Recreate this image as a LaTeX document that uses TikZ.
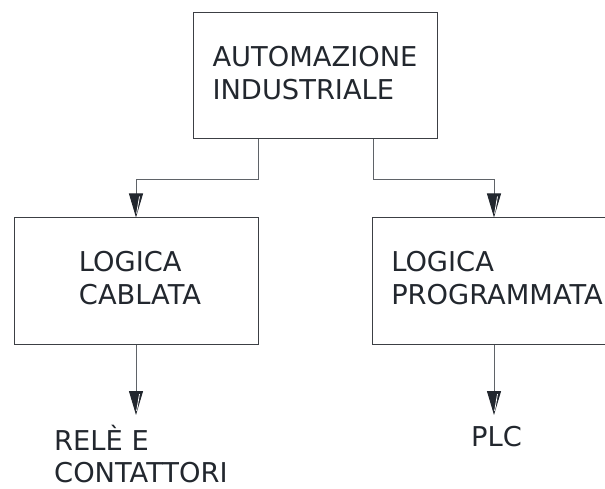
\documentclass[tikz,border=0pt]{standalone}
\usepackage{fontspec}
\setmainfont{DejaVu Sans}
\usetikzlibrary{arrows.meta,calc}
\definecolor{txt}{HTML}{22272E}
\definecolor{edgec}{HTML}{3C3F44}
\definecolor{connc}{HTML}{5F6368}
\definecolor{tipc}{HTML}{22272E}
\begin{document}
\begin{tikzpicture}[x=1pt,y=-1pt,
  txtfont/.style={font=\fontsize{27.3}{33}\selectfont},
  box/.style={draw=edgec,line width=1pt,inner sep=0pt,minimum width=244pt,
    minimum height=126pt,text=txt,txtfont},
  lbl/.style={inner sep=0pt,text=txt,txtfont,anchor=base west},
  conn/.style={draw=connc,line width=1pt,
    -{Triangle[length=24pt,width=14pt,color=tipc]}},
  slash/.style={draw=white,line width=0.8pt}]
\clip (0,0) rectangle (605,489);
\node[box] (top) at (315,76)
  {\begin{tabular}{@{}l@{}}AUTOMAZIONE\\INDUSTRIALE\end{tabular}};
\node[box] (lbox) at (136,281)
  {\hspace*{8pt}\begin{tabular}{@{}l@{}}LOGICA\\CABLATA\end{tabular}};
\node[box] (rbox) at (494,281)
  {\hspace*{6pt}\begin{tabular}{@{}l@{}}LOGICA\\PROGRAMMATA\end{tabular}};
\node[lbl] (rele) at (54,482)
  {\vbox{\baselineskip=32pt\hbox{RELÈ E}\hbox{CONTATTORI}}};
\node[lbl] (plc) at (471,446) {PLC};
\coordinate (releTip) at (136,415);
\coordinate (plcTip) at (494,415);
\draw[conn] ([xshift=-57pt]top.south) -- ++(0,40) -| (lbox.north);
\draw[conn] ([xshift=58pt]top.south) -- ++(0,40) -| (rbox.north);
\draw[conn] (lbox.south) -- (releTip);
\draw[conn] (rbox.south) -- (plcTip);
\foreach \t in {lbox.north,rbox.north,releTip,plcTip}
  \draw[slash] ($(\t)+(3.5,-21)$) -- ($(\t)+(0.6,-4)$);
\end{tikzpicture}
\end{document}
